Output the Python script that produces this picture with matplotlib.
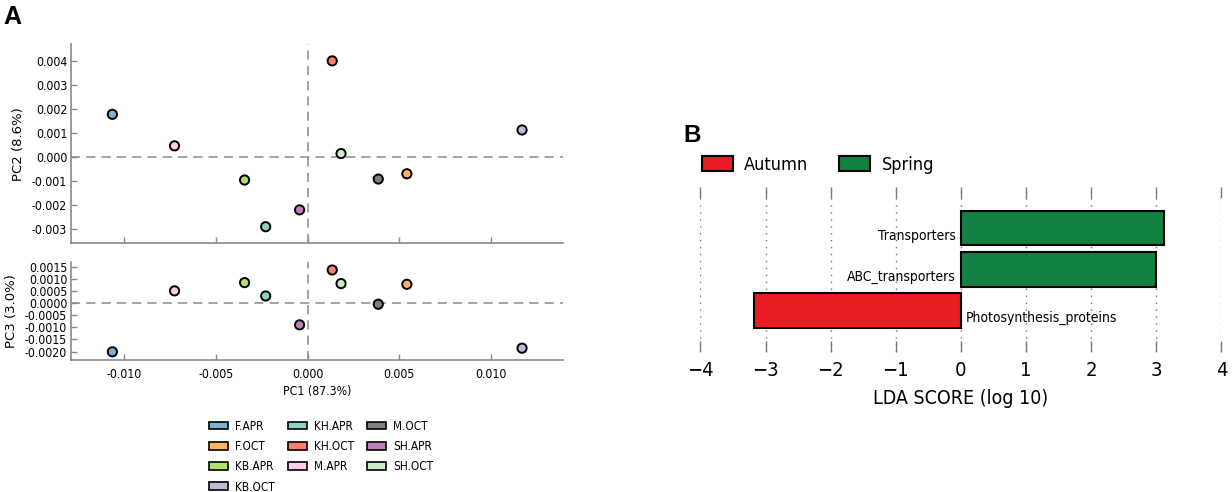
import matplotlib
matplotlib.use('Agg')
import matplotlib.pyplot as plt
from matplotlib.patches import Patch
from matplotlib.ticker import FixedLocator, FormatStrFormatter

# ---------------- data ----------------
samples = ['F.APR', 'F.OCT', 'KB.APR', 'KB.OCT', 'KH.APR',
           'KH.OCT', 'M.APR', 'M.OCT', 'SH.APR', 'SH.OCT']
sample_colors = ['#80B1D3', '#FDB462', '#B3DE69', '#BEBADA', '#8DD3C7',
                 '#FB8072', '#FCCDE5', '#808080', '#BC80BD', '#CCEBC5']
pc1 = [-0.01065, 0.00541, -0.00344, 0.01169, -0.00229,
       0.00134, -0.00726, 0.00385, -0.00044, 0.00182]
pc2 = [0.00178, -0.00069, -0.00095, 0.00113, -0.00289,
       0.00400, 0.00047, -0.00091, -0.00219, 0.00015]
pc3 = [-0.00201, 0.00077, 0.00084, -0.00186, 0.00029,
       0.00136, 0.00050, -0.00005, -0.00090, 0.00080]
pc1_ticks = [-0.010, -0.005, 0.000, 0.005, 0.010]
pc2_ticks = [0.004, 0.003, 0.002, 0.001, 0.000, -0.001, -0.002, -0.003]
pc3_ticks = [0.0015, 0.0010, 0.0005, 0.0000, -0.0005, -0.0010, -0.0015, -0.0020]

features = ['Photosynthesis_proteins', 'ABC_transporters', 'Transporters']
lda_scores = [-3.17, 3.00, 3.12]
feature_class = ['Autumn', 'Spring', 'Spring']
class_names = ['Autumn', 'Spring']
class_colors = ['#EC1C24', '#118040']
lda_ticks = [-4, -3, -2, -1, 0, 1, 2, 3, 4]

# ---------------- figure ----------------
W, H = 1232, 492
fig = plt.figure(figsize=(W / 100, H / 100), dpi=100)

def box(l, t, r, b):
    return [l / W, 1 - b / H, (r - l) / W, (b - t) / H]

grey = '#8a8a8a'

ax1 = fig.add_axes(box(71.4, 44.3, 563, 243.3))
ax2 = fig.add_axes(box(71.4, 261.8, 563, 360))

for ax, yv, yt, fmt, lab in [(ax1, pc2, pc2_ticks, '%.3f', 'PC2 (8.6%)'),
                             (ax2, pc3, pc3_ticks, '%.4f', 'PC3 (3.0%)')]:
    ax.axhline(0, color=grey, lw=1.1, dashes=(6, 4), zorder=1)
    ax.axvline(0, color=grey, lw=1.1, dashes=(6, 4), zorder=1)
    ax.scatter(pc1, yv, s=44, c=sample_colors, edgecolors='black',
               linewidths=1.4, zorder=3)
    xr = max(pc1) - min(pc1)
    ax.set_xlim(min(pc1) - 0.1 * xr, max(pc1) + 0.1 * xr)
    yr = max(yv) - min(yv)
    ax.set_ylim(min(yv) - 0.1 * yr, max(yv) + 0.1 * yr)
    ax.xaxis.set_major_locator(FixedLocator(pc1_ticks))
    ax.yaxis.set_major_locator(FixedLocator(yt))
    ax.yaxis.set_major_formatter(FormatStrFormatter(fmt))
    ax.xaxis.set_major_formatter(FormatStrFormatter('%.3f'))
    for s in ['top', 'right']:
        ax.spines[s].set_visible(False)
    for s in ['left', 'bottom']:
        ax.spines[s].set_color(grey)
        ax.spines[s].set_linewidth(1.2)
    ax.tick_params(direction='in', length=4, width=1, color=grey,
                   labelsize=8.8, pad=3)
    ax.tick_params(axis='x', pad=6)
    for t in ax.get_xticklabels() + ax.get_yticklabels():
        t.set_fontstretch('condensed')
    ax.set_ylabel(lab, fontsize=9.5, labelpad=5)

ax1.tick_params(labelbottom=False)
ax2.set_xlabel('PC1 (87.3%)', fontsize=8.8, fontstretch='condensed', labelpad=3)

handles = [Patch(facecolor=c, edgecolor='black', linewidth=1.2, label=n)
           for n, c in zip(samples, sample_colors)]
fig.legend(handles=handles, loc='upper center', ncol=3, frameon=False,
           bbox_to_anchor=(321 / W, 1 - 409 / H),
           prop=dict(size=8.5, stretch='condensed'),
           handlelength=1.6, handleheight=0.65, handletextpad=0.6,
           labelspacing=0.62, columnspacing=1.1)

fig.text(3.6 / W, 1 - 5 / H, 'A', fontsize=18, fontweight='bold',
         family='Liberation Sans', va='top', ha='left')

# ---------------- panel B ----------------
axb = fig.add_axes(box(700.4, 187, 1221.4, 351.7))
ypos = list(range(len(features)))
cmap = dict(zip(class_names, class_colors))
for y, f, v, c in zip(ypos, features, lda_scores, feature_class):
    axb.barh(y, v, height=0.84, color=cmap[c], edgecolor='black',
             linewidth=1.5, zorder=3)
    if v >= 0:
        axb.text(-0.08, y - 0.19, f, ha='right', va='center', fontsize=10,
                 fontstretch='condensed', zorder=4)
    else:
        axb.text(0.08, y - 0.19, f, ha='left', va='center', fontsize=10,
                 fontstretch='condensed', zorder=4)
axb.set_xlim(-4, 4)
axb.set_ylim(-1, 3)
axb.set_xticks(lda_ticks)
axb.set_xticklabels([str(t).replace('-', '\u2212') for t in lda_ticks])
axb.set_yticks([])
for s in axb.spines.values():
    s.set_visible(False)
axb.grid(axis='x', linestyle=(0, (1, 4)), color='#777777', lw=1.0, zorder=0)
axb.tick_params(axis='x', direction='in', top=True, bottom=True, length=8,
                width=1.0, color='#777777', labelsize=14.5, pad=7)
for t in axb.get_xticklabels():
    t.set_fontstretch('condensed')
axb.set_xlabel('LDA SCORE (log 10)', fontsize=14, fontstretch='condensed',
               labelpad=6)

bh = [Patch(facecolor=c, edgecolor='black', linewidth=1.5, label=n)
      for n, c in zip(class_names, class_colors)]
fig.legend(handles=bh, loc='center left', ncol=2, frameon=False,
           bbox_to_anchor=(700 / W, 1 - 165 / H),
           prop=dict(size=13, stretch='condensed'),
           handlelength=1.7, handleheight=0.9, handletextpad=0.65,
           columnspacing=1.7, borderpad=0.1, borderaxespad=0)

fig.text(683 / W, 1 - 124 / H, 'B', fontsize=17.5, fontweight='bold',
         family='Liberation Sans', va='top', ha='left')

fig.savefig('out.png', dpi=100)
